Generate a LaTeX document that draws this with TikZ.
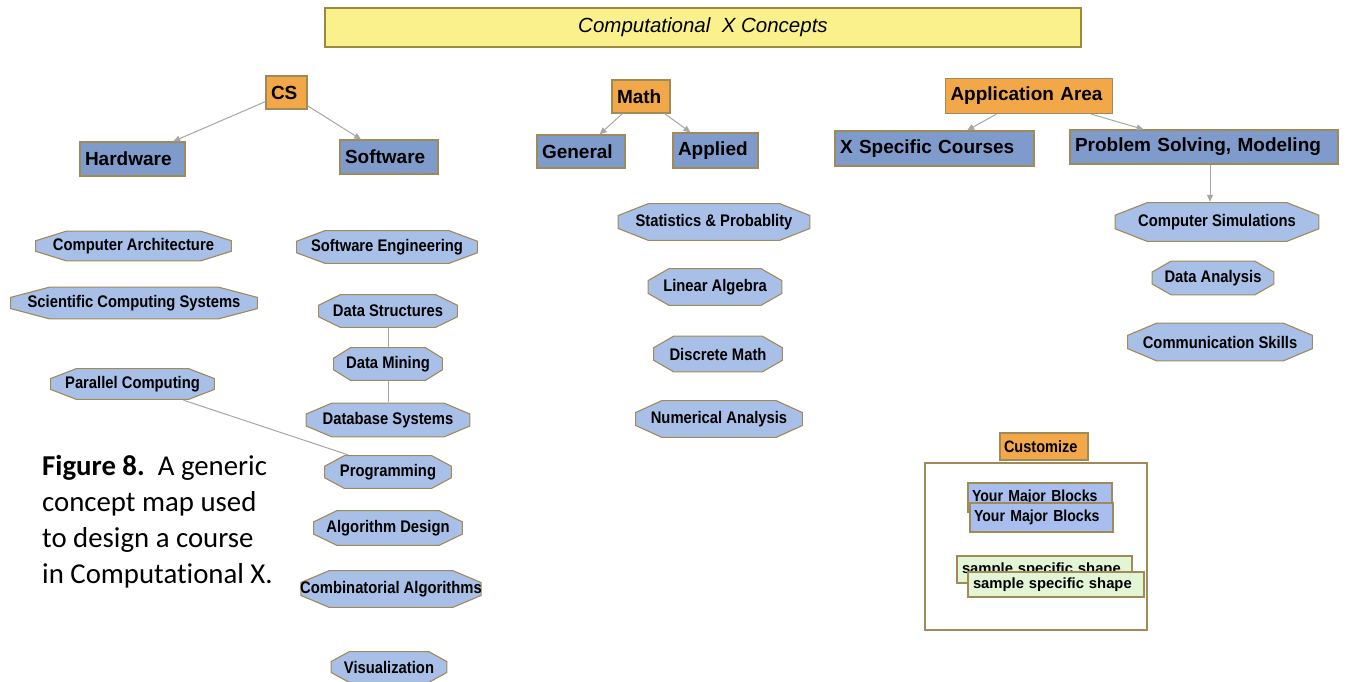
\documentclass[tikz,border=0pt]{standalone}
\usepackage{fontspec}
\setmainfont{Liberation Sans}
\newfontfamily\boxfont{Liberation Sans}
\newfontfamily\octfont{Liberation Sans}[FakeStretch=0.88]
\newfontfamily\capfont{Carlito}[Ligatures={NoCommon}]
\usetikzlibrary{calc,arrows.meta}

\definecolor{titlefill}{HTML}{FAF08C}
\definecolor{titleline}{HTML}{9C8A3C}
\definecolor{orangefill}{HTML}{F2A848}
\definecolor{bluefill}{HTML}{7F9BCB}
\definecolor{octfill}{HTML}{A8C0E8}
\definecolor{blockfill}{HTML}{A8BEEE}
\definecolor{greenfill}{HTML}{E2F5D4}
\definecolor{edgeline}{HTML}{A08A58}
\definecolor{linkgray}{HTML}{A6A6A6}

\tikzset{
  box/.style={rectangle, draw=edgeline, line width=1.2pt, inner xsep=5pt, inner ysep=0pt,
    align=left, font={\boxfont\bfseries\fontsize{19}{22}\selectfont}},
  cat/.style={box, fill=orangefill},
  sub/.style={box, fill=bluefill},
  octshape/.style={fill=octfill, draw=edgeline, line width=1.1pt},
  oct/.style={rectangle, inner sep=0pt, align=center,
    font={\octfont\bfseries\fontsize{16.8}{19}\selectfont},
    path picture={
      \path[octshape]
        ($(path picture bounding box.north west)!.16!(path picture bounding box.north east)+(0pt,-.6pt)$) --
        ($(path picture bounding box.north west)!.84!(path picture bounding box.north east)+(0pt,-.6pt)$) --
        ($(path picture bounding box.north east)!.33!(path picture bounding box.south east)+(-.6pt,0pt)$) --
        ($(path picture bounding box.north east)!.67!(path picture bounding box.south east)+(-.6pt,0pt)$) --
        ($(path picture bounding box.south west)!.84!(path picture bounding box.south east)+(0pt,.6pt)$) --
        ($(path picture bounding box.south west)!.16!(path picture bounding box.south east)+(0pt,.6pt)$) --
        ($(path picture bounding box.north west)!.67!(path picture bounding box.south west)+(.6pt,0pt)$) --
        ($(path picture bounding box.north west)!.33!(path picture bounding box.south west)+(.6pt,0pt)$) -- cycle;
    }},
  block/.style={rectangle, draw=edgeline, line width=1.1pt, fill=blockfill, inner xsep=4pt, inner ysep=0pt,
    align=left, font={\octfont\bfseries\fontsize{16}{18}\selectfont}},
  sample/.style={rectangle, draw=edgeline, line width=1.1pt, fill=greenfill, inner xsep=5pt, inner ysep=0pt,
    align=left, font={\boxfont\bfseries\fontsize{14.8}{17}\selectfont}},
  link/.style={draw=linkgray, line width=1pt},
  arr/.style={link, -{Triangle[length=7pt,width=6pt]}},
}

\begin{document}
\begin{tikzpicture}[x=1pt, y=-1pt]
\useasboundingbox (0,0) rectangle (1351,682);

% heading bar
\node[rectangle, draw=titleline, line width=1.2pt, fill=titlefill, minimum width=756, minimum height=39,
  font={\itshape\fontsize{20.5}{24}\selectfont}] (title) at (703,27.5) {Computational~~X Concepts};

% category boxes
\node[cat, text width=31, minimum height=33] (cs) at (286.5,92.5) {CS};
\node[cat, text width=48, minimum height=33] (math) at (641,96.5) {Math};
\node[cat, text width=157, minimum height=35] (app) at (1029,96) {Application Area};

% sub-category boxes
\node[sub, text width=95, minimum height=34] (hw) at (132.5,159) {Hardware};
\node[sub, text width=88, minimum height=34] (sw) at (389,157) {Software};
\node[sub, text width=78, minimum height=33] (gen) at (581,151.5) {General};
\node[sub, text width=75, minimum height=35] (appl) at (715.5,150.5) {Applied};
\node[sub, text width=189, minimum height=35] (xsc) at (934.5,148.5) {X Specific Courses};
\node[sub, text width=258, minimum height=34] (psm) at (1204,147) {Problem Solving, Modeling};

% hardware topics
\node[oct, minimum width=197, minimum height=31] (carch) at (133.5,246) {Computer Architecture};
\node[oct, minimum width=248, minimum height=33] (scs) at (134,303) {Scientific Computing Systems};
\node[oct, minimum width=165, minimum height=32] (par) at (132.5,384) {Parallel Computing};

% software topics
\node[oct, minimum width=182, minimum height=34] (swe) at (387,247) {Software Engineering};
\node[oct, minimum width=140, minimum height=34] (ds) at (388,311) {Data Structures};
\node[oct, minimum width=110, minimum height=34] (dm) at (388,364) {Data Mining};
\node[oct, minimum width=165, minimum height=35] (dbs) at (388,420) {Database Systems};
\node[oct, minimum width=128, minimum height=34] (prog) at (388,472) {Programming};
\node[oct, minimum width=150, minimum height=36] (algd) at (388,528) {Algorithm Design};
\node[oct, minimum width=178, minimum height=38] (comb) at (391,589) {Combinatorial Algorithms};
\node[oct, minimum width=117, minimum height=32] (vis) at (389,667) {Visualization};

% applied math topics
\node[oct, minimum width=193, minimum height=38] (stat) at (714,222) {Statistics \& Probablity};
\node[oct, minimum width=135, minimum height=38] (linalg) at (715,287) {Linear Algebra};
\node[oct, minimum width=130, minimum height=37] (disc) at (718,354) {Discrete Math};
\node[oct, minimum width=168, minimum height=38] (num) at (719,419) {Numerical Analysis};

% modeling topics
\node[oct, minimum width=205, minimum height=40] (csim) at (1217,222) {Computer Simulations};
\node[oct, minimum width=123, minimum height=35] (dan) at (1213,278) {Data Analysis};
\node[oct, minimum width=186, minimum height=39] (comm) at (1220,342) {Communication Skills};

% connectors
\draw[arr] (cs) -- (hw);
\draw[arr] (cs) -- (sw);
\draw[arr] (math) -- (gen);
\draw[arr] (math) -- (appl);
\draw[arr] (app) -- (xsc);
\draw[arr] (app) -- (psm);
\draw[arr] ([xshift=6pt]psm.south) -- ([xshift=6pt]psm.south |- csim.north);
\draw[link] (ds) -- (dm);
\draw[link] (dm) -- (dbs);
\draw[link] ([xshift=51pt]par.south) -- ([xshift=-40pt]prog.north);

% legend panel
\node[cat, text width=80, minimum height=27, font={\octfont\bfseries\fontsize{16.5}{19}\selectfont}, inner xsep=4pt]
  (cust) at (1044,446.5) {Customize};
\node[rectangle, draw=edgeline, line width=1.2pt, minimum width=222, minimum height=167, inner sep=0pt]
  (panel) at (1036,546.5) {};
\node[block, text width=136, minimum height=29] (blockA) at (1040,497.5) {Your Major Blocks};
\node[block, text width=135, minimum height=29] (blockB) at (1041.5,517.5) {Your Major Blocks};
\node[sample, text width=165, minimum height=27] (shapeA) at (1044.5,569.5) {sample specific shape};
\node[sample, text width=166, minimum height=25] (shapeB) at (1056,584.5) {sample specific shape};

% caption
\node[anchor=north west, inner sep=0pt, align=left, font={\capfont\fontsize{28.8}{36}\selectfont}]
  (caption) at (42,455) {\textbf{Figure 8.}~~A generic\\concept map used\\to design a course\\in Computational X.};
\end{tikzpicture}
\end{document}
